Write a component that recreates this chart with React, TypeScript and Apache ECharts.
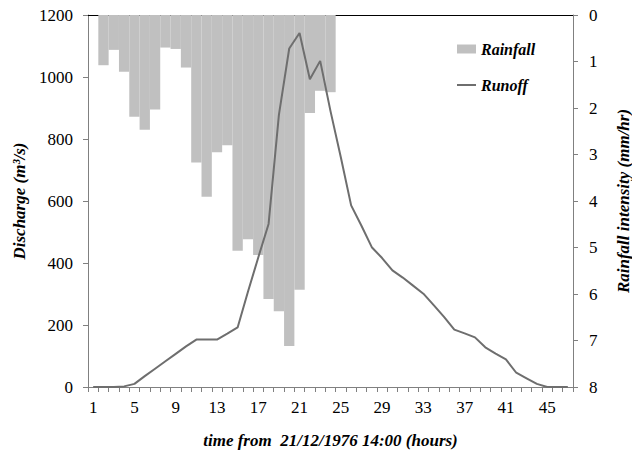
import React, { useEffect, useRef } from "react";
import * as echarts from "echarts";

const hours: string[] = Array.from({ length: 47 }, (_, i) => String(i + 1));

// Rainfall intensity (mm/hr) per hour, categories 1..47 ('-' = no bar)
const rainfall: (number | string)[] = [
  "-", 1.08, 0.75, 1.22, 2.19, 2.47, 2.03, 0.70, 0.73, 1.13,
  3.17, 3.91, 2.95, 2.80, 5.07, 4.82, 5.16, 6.11, 6.37, 7.12,
  5.91, 2.11, 1.63, 1.66, "-", "-", "-", "-", "-", "-",
  "-", "-", "-", "-", "-", "-", "-", "-", "-", "-",
  "-", "-", "-", "-", "-", "-", "-",
];

// Runoff discharge (m3/s) per hour, categories 1..47
const runoff: number[] = [
  0, 0, 0, 2, 10, 35, 59, 83, 107, 131,
  153, 153, 153, 172, 192, 307, 418, 526, 878, 1092,
  1142, 993, 1052, 890, 741, 586, 520, 451, 416, 376,
  353, 327, 301, 264, 226, 185, 173, 160, 128, 108,
  89, 46, 28, 10, 0, 0, 0,
];

const SERIF = "Liberation Serif";
const GREY_LINE = "#6e6e6e";
const GREY_BAR = "#c0c0c0";

export default function App() {
  const ref = useRef<HTMLDivElement>(null);

  useEffect(() => {
    if (!ref.current) return;
    const chart = echarts.init(ref.current, undefined, { renderer: "svg" });
    const labelStyle = { fontFamily: SERIF, fontSize: 17, color: "#000" };
    const titleStyle = {
      fontFamily: SERIF,
      fontSize: 17,
      fontWeight: "bold" as const,
      fontStyle: "italic" as const,
      color: "#000",
    };
    const legendText = { ...titleStyle, fontSize: 16 };
    chart.setOption({
      animation: false,
      backgroundColor: "#fff",
      textStyle: { fontFamily: SERIF },
      grid: {
        left: 88,
        right: 59,
        top: 15,
        bottom: 66,
        containLabel: false,
        outerBoundsMode: "none",
      },
      legend: [
        {
          left: 452,
          top: 36,
          itemWidth: 19,
          itemHeight: 9,
          textStyle: legendText,
          data: [{ name: "Rainfall", icon: "rect" }],
        },
        {
          left: 452,
          top: 72,
          itemWidth: 19,
          itemHeight: 2,
          textStyle: legendText,
          data: [{ name: "Runoff", icon: "rect" }],
        },
      ],
      xAxis: [
        {
          type: "category",
          data: hours,
          boundaryGap: true,
          position: "bottom",
          name: "time from  21/12/1976 14:00 (hours)",
          nameLocation: "middle",
          nameGap: 45,
          nameTextStyle: titleStyle,
          axisLine: { lineStyle: { color: "#808080", width: 1 } },
          axisTick: { show: true, interval: 0, length: 5, lineStyle: { color: "#808080" } },
          axisLabel: { ...labelStyle, interval: 3, margin: 12 },
          splitLine: { show: false },
        },
        {
          type: "category",
          data: hours,
          boundaryGap: true,
          position: "top",
          axisLine: { lineStyle: { color: "#000", width: 1 } },
          axisTick: { show: false },
          axisLabel: { show: false },
          splitLine: { show: false },
        },
      ],
      yAxis: [
        {
          type: "value",
          min: 0,
          max: 1200,
          interval: 200,
          position: "left",
          name: "Discharge (m³/s)",
          nameLocation: "middle",
          nameGap: 60,
          nameTextStyle: titleStyle,
          axisLine: { show: true, lineStyle: { color: "#808080", width: 1 } },
          axisTick: { show: true, length: 5, lineStyle: { color: "#808080" } },
          axisLabel: { ...labelStyle, margin: 15, formatter: (v: number) => String(v) },
          splitLine: { show: false },
        },
        {
          type: "value",
          min: 0,
          max: 8,
          interval: 1,
          inverse: true,
          position: "right",
          name: "Rainfall intensity (mm/hr)",
          nameLocation: "middle",
          nameGap: 42,
          nameRotate: 90,
          nameTextStyle: titleStyle,
          axisLine: { show: true, lineStyle: { color: "#808080", width: 1 } },
          axisTick: { show: true, length: 5, lineStyle: { color: "#808080" } },
          axisLabel: { ...labelStyle, margin: 16, formatter: (v: number) => String(v) },
          splitLine: { show: false },
        },
      ],
      series: [
        {
          name: "Rainfall",
          type: "bar",
          xAxisIndex: 0,
          yAxisIndex: 1,
          data: rainfall,
          barCategoryGap: "0%",
          barGap: "0%",
          itemStyle: { color: GREY_BAR },
          z: 1,
        },
        {
          name: "Runoff",
          type: "line",
          xAxisIndex: 0,
          yAxisIndex: 0,
          data: runoff,
          symbol: "none",
          lineStyle: { color: GREY_LINE, width: 2 },
          itemStyle: { color: GREY_LINE },
          z: 3,
        },
      ],
    });
    return () => chart.dispose();
  }, []);

  return (
    <div
      ref={ref}
      style={{ position: "fixed", left: 0, top: 0, width: 632, height: 453 }}
    />
  );
}
